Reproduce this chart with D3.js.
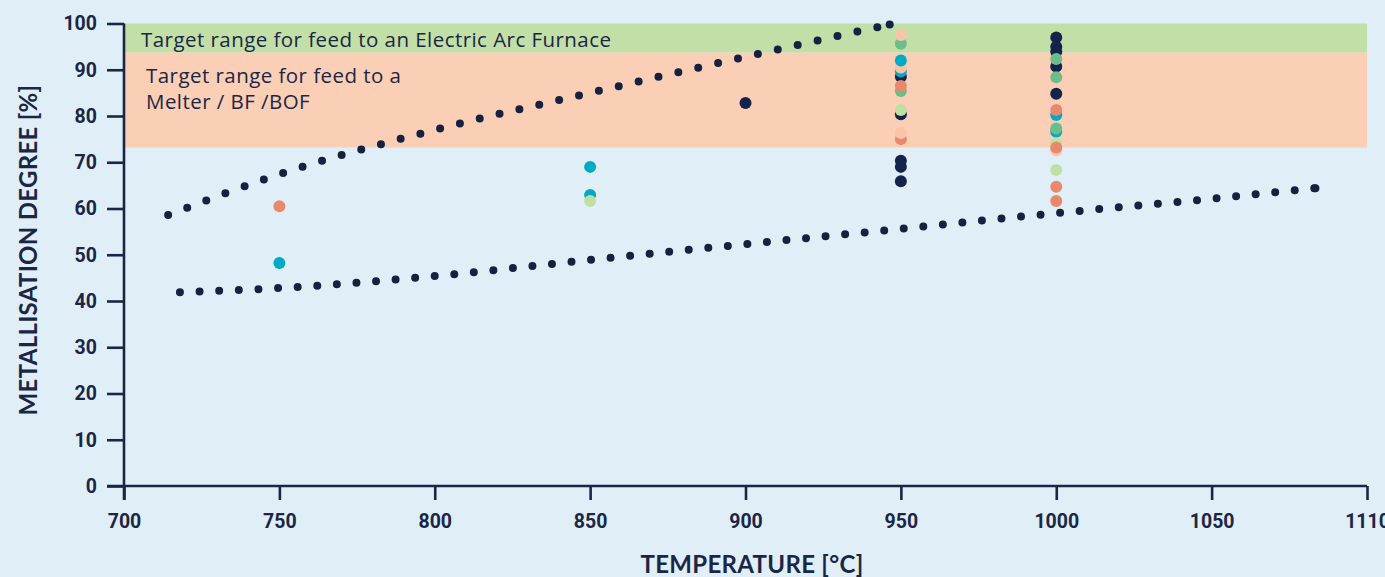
<!DOCTYPE html>
<html>
<head>
<meta charset="utf-8">
<script src="https://cdn.jsdelivr.net/npm/d3@7"></script>
<style>
body { margin: 0; background: #e0eff7; }
svg { display: block; }
</style>
</head>
<body>
<div id="chart"></div>
<script>
// setup
var w = 1385;
var h = 577;

// data
var xTicks = [700, 750, 800, 850, 900, 950, 1000, 1050, 1100];
var xTickLabels = ["700", "750", "800", "850", "900", "950", "1000", "1050", "1110"];
var yTicks = [0, 10, 20, 30, 40, 50, 60, 70, 80, 90, 100];

var eafRange = [93.7, 100];
var melterRange = [73.2, 93.7];
var eafLabel = "Target range for feed to an Electric Arc Furnace";
var melterLabel = ["Target range for feed to a", "Melter / BF /BOF"];

// dotted envelope lines
var upperTemp = [714.2, 750, 800, 850, 900, 946.4];
var upperValue = [58.6, 67.4, 77.0, 85.0, 92.8, 99.8];
var lowerTemp = [718, 750, 800, 850, 900, 950, 1000, 1050, 1083.4];
var lowerValue = [41.9, 42.8, 45.4, 48.9, 52.3, 55.6, 59.0, 62.1, 64.4];

// measured points, in drawing order: [temperature, metallisation, group]
var points = [
    [750, 60.5, "salmon"], [750, 48.2, "teal"],
    [850, 69.0, "teal"], [850, 62.9, "teal"], [850, 61.6, "lightgreen"],
    [900, 82.8, "navy"],
    [950, 88.5, "navy"], [950, 89.6, "teal"], [950, 90.5, "peach"], [950, 92.0, "teal"],
    [950, 95.6, "green"], [950, 97.5, "peach"], [950, 85.4, "green"], [950, 86.5, "salmon"],
    [950, 80.4, "navy"], [950, 81.3, "lightgreen"], [950, 75.0, "salmon"], [950, 76.3, "peach"],
    [950, 70.3, "navy"], [950, 69.0, "navy"], [950, 65.9, "navy"],
    [1000, 97.0, "navy"], [1000, 95.0, "navy"], [1000, 93.9, "navy"], [1000, 90.7, "navy"],
    [1000, 92.3, "green"], [1000, 88.4, "green"], [1000, 84.8, "navy"], [1000, 80.2, "teal"],
    [1000, 81.3, "salmon"], [1000, 76.6, "teal"], [1000, 77.3, "green"], [1000, 74.1, "lightgreen"],
    [1000, 72.6, "peach"], [1000, 73.2, "salmon"], [1000, 68.3, "lightgreen"],
    [1000, 64.7, "salmon"], [1000, 61.6, "salmon"]
];

var groupColor = {
    navy: "#14234a",
    teal: "#00a9c4",
    green: "#6cbd89",
    lightgreen: "#bfe0a2",
    salmon: "#e8886c",
    peach: "#f9c4a8"
};

var ink = "#1b2646";

var svg = d3.select("#chart")
    .append("svg")
    .attr("width", w)
    .attr("height", h)
    .style("background", "#e0eff7");

var x = d3.scaleLinear().domain([700, 1100]).range([124, 1367]);
var y = d3.scaleLinear().domain([0, 100]).range([486, 23.5]);

// target bands
svg.append("rect")
    .attr("x", x(700)).attr("width", x(1100) - x(700))
    .attr("y", y(eafRange[1])).attr("height", y(eafRange[0]) - y(eafRange[1]))
    .attr("fill", "#c2dfa8");
svg.append("rect")
    .attr("x", x(700)).attr("width", x(1100) - x(700))
    .attr("y", y(melterRange[1])).attr("height", y(melterRange[0]) - y(melterRange[1]))
    .attr("fill", "#fbcfb5");

svg.append("text")
    .attr("x", 141).attr("y", 47)
    .attr("font-family", "'Open Sans', sans-serif")
    .attr("font-size", 20.5)
    .attr("letter-spacing", 0.45)
    .attr("fill", ink)
    .text(eafLabel);
svg.append("g").selectAll("text")
    .data(melterLabel)
    .enter()
    .append("text")
        .attr("x", 146)
        .attr("y", function(d, i) { return 83 + i * 26; })
        .attr("font-family", "'Open Sans', sans-serif")
        .attr("font-size", 20.5)
        .attr("letter-spacing", 0.45)
        .attr("fill", ink)
        .text(function(d) { return d; });

// dotted lines
var line = d3.line()
    .x(function(d) { return x(d[0]); })
    .y(function(d) { return y(d[1]); })
    .curve(d3.curveMonotoneX);

var upper = upperTemp.map(function(t, i) { return [t, upperValue[i]]; });
var lower = lowerTemp.map(function(t, i) { return [t, lowerValue[i]]; });

svg.append("path")
    .attr("d", line(upper))
    .attr("fill", "none")
    .attr("stroke", "#16213f")
    .attr("stroke-width", 8)
    .attr("stroke-linecap", "round")
    .attr("stroke-dasharray", "0 20.4");

var lowerPath = svg.append("path")
    .attr("d", line(lower))
    .attr("fill", "none")
    .attr("stroke", "#16213f")
    .attr("stroke-width", 8)
    .attr("stroke-linecap", "round");
var len = lowerPath.node().getTotalLength();
lowerPath.attr("stroke-dasharray", "0 " + (len / Math.round(len / 19.8) - 0.02));

// end dots of both lines
svg.append("g")
    .selectAll("circle")
    .data([upper[upper.length - 1], lower[lower.length - 1]])
    .enter()
    .append("circle")
        .attr("cx", function(d) { return x(d[0]); })
        .attr("cy", function(d) { return y(d[1]); })
        .attr("r", 4)
        .attr("fill", "#16213f");

// axes
var xAxis = d3.axisBottom(x)
    .tickValues(xTicks)
    .tickFormat(function(d, i) { return xTickLabels[i]; })
    .tickSize(14)
    .tickSizeOuter(0)
    .tickPadding(14);
var yAxis = d3.axisLeft(y)
    .tickValues(yTicks)
    .tickSize(17)
    .tickSizeOuter(0)
    .tickPadding(10);

var gx = svg.append("g")
    .attr("transform", "translate(0," + y(0) + ")")
    .call(xAxis);
var gy = svg.append("g")
    .attr("transform", "translate(" + x(700) + ",0)")
    .call(yAxis);

[gx, gy].forEach(function(g) {
    g.select(".domain").attr("stroke", ink).attr("stroke-width", 2.6);
    g.selectAll(".tick line").attr("stroke", ink).attr("stroke-width", 2.6);
    g.selectAll(".tick text")
        .attr("fill", ink)
        .attr("font-family", "Roboto, sans-serif")
        .attr("font-weight", 700)
        .attr("font-size", 19.5);
});
gx.select(".domain").attr("d", "M107,0H" + x(1100));
gy.select(".domain").attr("d", "M0," + y(100) + "V" + (y(0) + 14));

// scatter
svg.append("g")
    .selectAll("circle")
    .data(points)
    .enter()
    .append("circle")
        .attr("cx", function(d) { return x(d[0]); })
        .attr("cy", function(d) { return y(d[1]); })
        .attr("r", 6)
        .attr("fill", function(d) { return groupColor[d[2]]; });

// axis titles
svg.append("text")
    .attr("x", 752).attr("y", 573)
    .attr("text-anchor", "middle")
    .attr("font-family", "Lato, Roboto, sans-serif")
    .attr("font-weight", 700)
    .attr("font-size", 24)
    .attr("letter-spacing", 0.3)
    .attr("fill", ink)
    .text("TEMPERATURE [°C]");
svg.append("text")
    .attr("transform", "translate(37,250) rotate(-90)")
    .attr("text-anchor", "middle")
    .attr("font-family", "Lato, Roboto, sans-serif")
    .attr("font-weight", 700)
    .attr("font-size", 24)
    .attr("letter-spacing", 0.3)
    .attr("fill", ink)
    .text("METALLISATION DEGREE [%]");
</script>
</body>
</html>
